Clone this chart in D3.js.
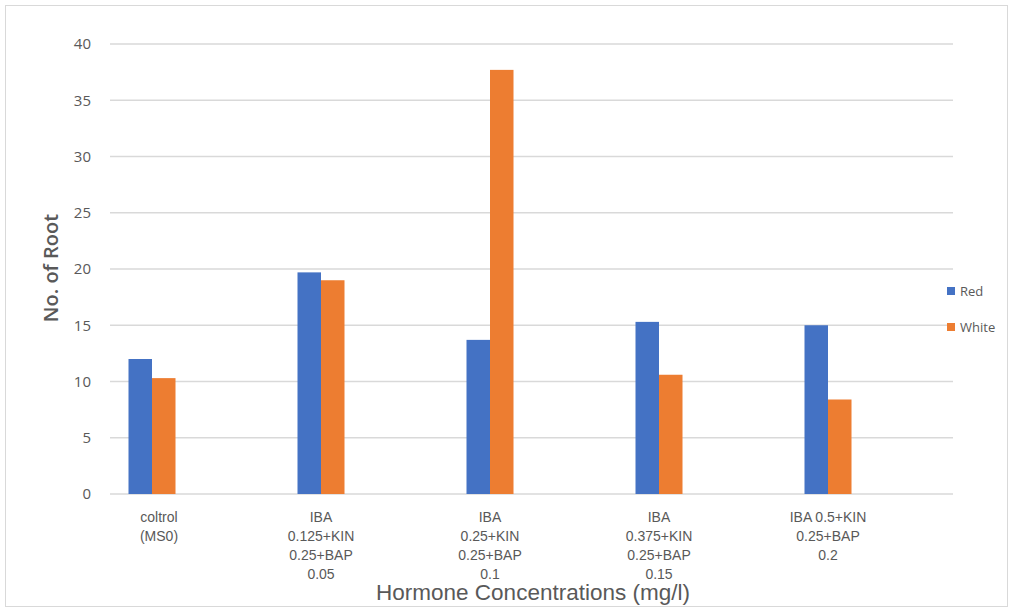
<!DOCTYPE html>
<html>
<head>
<meta charset="utf-8">
<script src="https://cdn.jsdelivr.net/npm/d3@7"></script>
<style>
  html, body { margin: 0; padding: 0; background: #fff; }
  svg { display: block; }
</style>
</head>
<body>
<svg id="chart" width="1014" height="612"></svg>
<script>
// Treatment groups (multi-line category labels)
const categories = [
  ["coltrol", "(MS0)"],
  ["IBA", "0.125+KIN", "0.25+BAP", "0.05"],
  ["IBA", "0.25+KIN", "0.25+BAP", "0.1"],
  ["IBA", "0.375+KIN", "0.25+BAP", "0.15"],
  ["IBA 0.5+KIN", "0.25+BAP", "0.2"]
];
const seriesNames = ["Red", "White"];
const redValues = [12.0, 19.7, 13.7, 15.3, 15.0];
const whiteValues = [10.3, 19.0, 37.7, 10.6, 8.4];
const yTicks = [0, 5, 10, 15, 20, 25, 30, 35, 40];
const colors = ["#4472C4", "#ED7D31"];

const svg = d3.select("#chart");

// outer frame
svg.append("rect")
  .attr("x", 5.5).attr("y", 5.5)
  .attr("width", 1002).attr("height", 601)
  .attr("fill", "#fff").attr("stroke", "#d9d9d9").attr("stroke-width", 1);

const gridLeft = 110, gridRight = 953;
const y = d3.scaleLinear().domain([0, 40]).range([494, 44]);
const x0 = d3.scaleBand().domain(d3.range(categories.length)).range([67.5, 912.5]);
const x1 = d3.scaleBand().domain(seriesNames).range([x0.bandwidth() / 2 - 23.5, x0.bandwidth() / 2 + 23.5]);

// horizontal gridlines
svg.append("g").selectAll("line").data(yTicks).join("line")
  .attr("x1", gridLeft).attr("x2", gridRight)
  .attr("y1", d => y(d)).attr("y2", d => y(d))
  .attr("stroke", "#d9d9d9").attr("stroke-width", 1.5);

// y axis tick labels
const yAxis = d3.axisLeft(y).tickValues(yTicks).tickSize(0).tickPadding(0);
const gy = svg.append("g").attr("transform", "translate(91,0)").call(yAxis);
gy.select(".domain").remove();
gy.selectAll("text")
  .attr("font-family", "'Open Sans', sans-serif")
  .attr("font-size", 15)
  .attr("fill", "#595959");

// bars
const groups = svg.append("g").selectAll("g").data(categories.map((c, i) => i)).join("g")
  .attr("transform", i => `translate(${x0(i)},0)`);
groups.selectAll("rect")
  .data(i => [{ s: "Red", v: redValues[i], c: colors[0] }, { s: "White", v: whiteValues[i], c: colors[1] }])
  .join("rect")
  .attr("x", d => x1(d.s))
  .attr("width", x1.bandwidth())
  .attr("y", d => y(d.v))
  .attr("height", d => y(0) - y(d.v))
  .attr("fill", d => d.c);

// category labels
const labelFont = "'Liberation Sans Narrow', 'Arial Narrow', sans-serif";
categories.forEach((lines, i) => {
  const cx = x0(i) + x0.bandwidth() / 2 + (i === 0 ? 7 : 0);
  const t = svg.append("text")
    .attr("x", cx)
    .attr("y", 522)
    .attr("text-anchor", "middle")
    .attr("font-family", labelFont)
    .attr("font-size", 14)
    .attr("fill", "#595959");
  lines.forEach((ln, k) => {
    t.append("tspan").attr("x", cx).attr("dy", k === 0 ? 0 : 19).text(ln);
  });
});

// axis titles
svg.append("text")
  .attr("x", 533).attr("y", 600)
  .attr("text-anchor", "middle")
  .attr("font-family", labelFont)
  .attr("font-size", 22.5)
  .attr("fill", "#595959")
  .text("Hormone Concentrations (mg/l)");

svg.append("text")
  .attr("transform", "translate(58,268) rotate(-90)")
  .attr("text-anchor", "middle")
  .attr("font-family", "'Open Sans', sans-serif")
  .attr("font-size", 20)
  .attr("font-weight", 600)
  .attr("fill", "#595959")
  .text("No. of Root");

// legend
const legend = svg.append("g").selectAll("g").data(seriesNames).join("g")
  .attr("transform", (d, i) => `translate(947,${287 + i * 36})`);
legend.append("rect").attr("width", 8).attr("height", 8).attr("fill", (d, i) => colors[i]);
legend.append("text")
  .attr("x", 13).attr("y", 9)
  .attr("font-family", "'Open Sans', sans-serif")
  .attr("font-size", 13)
  .attr("fill", "#595959")
  .text(d => d);
</script>
</body>
</html>
